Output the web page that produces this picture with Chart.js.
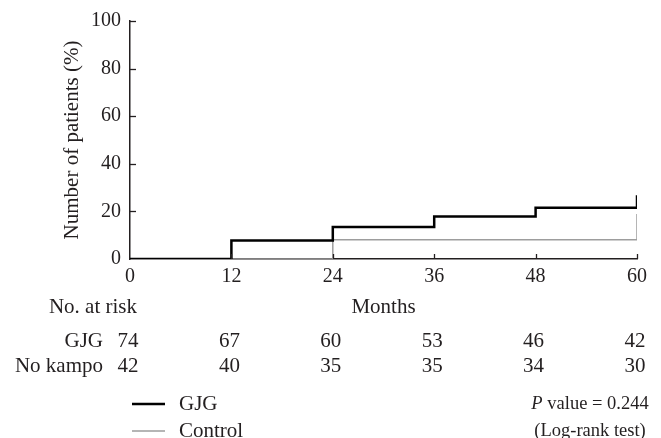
<!DOCTYPE html>
<html lang="en">
<head>
    <meta charset="UTF-8">
    <title>Number of patients (%) by months</title>
    <script src="https://cdn.jsdelivr.net/npm/chart.js"></script>
    <style>
        body {
            margin: 0;
            padding: 0;
            background-color: white;
        }
        .chart-box {
            width: 661px;
            height: 438px;
            position: relative;
        }
    </style>
</head>
<body>
    <div class="chart-box">
        <canvas id="kmChart"></canvas>
    </div>

    <script>
        // data
        const months = [0, 12, 24, 36, 48, 60];
        const gjgPct = [0, 7.8, 13.4, 17.9, 21.5, 26.8];
        const controlMonths = [0, 24, 60];
        const controlPct = [0, 8.1, 18.9];
        const atRiskGJG = [74, 67, 60, 53, 46, 42];
        const atRiskNoKampo = [42, 40, 35, 35, 34, 30];
        const yTicks = [0, 20, 40, 60, 80, 100];

        const textColor = '#231f20';
        const serif = '"Liberation Serif", "Times New Roman", serif';
        const tickSize = 20;
        const labelSize = 21;
        const noteSize = 18.5;

        // inward tick marks, at-risk table and legend
        const extras = {
            id: 'extras',
            afterDraw(chart) {
                const ctx = chart.ctx;
                const xs = chart.scales.x;
                const ys = chart.scales.y;
                const area = chart.chartArea;

                ctx.save();
                ctx.strokeStyle = textColor;
                ctx.lineWidth = 1.3;
                yTicks.forEach(v => {
                    if (v === 0) return;
                    const y = Math.round(ys.getPixelForValue(v)) + 0.5;
                    ctx.beginPath();
                    ctx.moveTo(area.left, y);
                    ctx.lineTo(area.left + 6, y);
                    ctx.stroke();
                });
                months.forEach(m => {
                    if (m === 0) return;
                    const x = Math.round(xs.getPixelForValue(m)) + 0.5;
                    ctx.beginPath();
                    ctx.moveTo(x, area.bottom);
                    ctx.lineTo(x, area.bottom - 5);
                    ctx.stroke();
                });

                // number at risk
                ctx.fillStyle = textColor;
                ctx.font = labelSize + 'px ' + serif;
                ctx.textBaseline = 'middle';
                ctx.textAlign = 'right';
                ctx.fillText('No. at risk', xs.getPixelForValue(0) + 7, 307);
                ctx.fillText('GJG', 103, 341);
                ctx.fillText('No kampo', 103, 366);
                ctx.textAlign = 'center';
                months.forEach((m, i) => {
                    const x = xs.getPixelForValue(m) - 2;
                    ctx.fillText(String(atRiskGJG[i]), x, 341);
                    ctx.fillText(String(atRiskNoKampo[i]), x, 366);
                });

                // legend
                const legendY = [404, 431];
                chart.data.datasets.forEach((ds, i) => {
                    ctx.strokeStyle = ds.borderColor;
                    ctx.lineWidth = ds.borderWidth;
                    ctx.beginPath();
                    ctx.moveTo(132, legendY[i]);
                    ctx.lineTo(165, legendY[i]);
                    ctx.stroke();
                    ctx.textAlign = 'left';
                    ctx.fillText(ds.label, 179, legendY[i]);
                });

                // p value note
                const cx = 590;
                const italic = 'italic ' + noteSize + 'px ' + serif;
                const normal = noteSize + 'px ' + serif;
                ctx.font = italic;
                const wP = ctx.measureText('P').width;
                ctx.font = normal;
                const rest = ' value = 0.244';
                const wRest = ctx.measureText(rest).width;
                const x0 = cx - (wP + wRest) / 2;
                ctx.textAlign = 'left';
                ctx.font = italic;
                ctx.fillText('P', x0, legendY[0]);
                ctx.font = normal;
                ctx.fillText(rest, x0 + wP, legendY[0]);
                ctx.textAlign = 'center';
                ctx.fillText('(Log-rank test)', cx, legendY[1]);
                ctx.restore();
            }
        };

        const ctx = document.getElementById('kmChart').getContext('2d');
        new Chart(ctx, {
            type: 'line',
            data: {
                datasets: [{
                    label: 'GJG',
                    data: months.map((m, i) => ({ x: m, y: gjgPct[i] })),
                    borderColor: '#000000',
                    borderWidth: 2.5,
                    stepped: 'before',
                    pointRadius: 0,
                    fill: false
                }, {
                    label: 'Control',
                    data: controlMonths.map((m, i) => ({ x: m, y: controlPct[i] })),
                    borderColor: '#9d9d9d',
                    borderWidth: 1.5,
                    stepped: 'before',
                    pointRadius: 0,
                    fill: false
                }]
            },
            options: {
                responsive: true,
                maintainAspectRatio: false,
                animation: false,
                layout: {
                    padding: { left: 0, right: 24, top: 18, bottom: 0 }
                },
                plugins: {
                    legend: { display: false },
                    tooltip: { enabled: false }
                },
                scales: {
                    x: {
                        type: 'linear',
                        min: 0,
                        max: 60,
                        afterBuildTicks: s => { s.ticks = months.map(v => ({ value: v })); },
                        afterFit: s => { s.height = 179; },
                        grid: { display: false, drawTicks: false },
                        border: { display: true, color: textColor, width: 1.5 },
                        ticks: {
                            color: textColor,
                            padding: 6,
                            maxRotation: 0,
                            font: { family: serif, size: tickSize }
                        },
                        title: {
                            display: true,
                            text: 'Months',
                            color: textColor,
                            padding: { top: 0, bottom: 118 },
                            font: { family: serif, size: labelSize }
                        }
                    },
                    y: {
                        min: 0,
                        max: 100,
                        afterBuildTicks: s => { s.ticks = yTicks.map(v => ({ value: v })); },
                        afterFit: s => { s.width = 130; },
                        grid: { display: false, drawTicks: false },
                        border: { display: true, color: textColor, width: 1.5 },
                        ticks: {
                            color: textColor,
                            padding: 9,
                            font: { family: serif, size: tickSize }
                        },
                        title: {
                            display: true,
                            text: 'Number of patients (%)',
                            color: textColor,
                            padding: { top: 60, bottom: 0 },
                            font: { family: serif, size: labelSize }
                        }
                    }
                }
            },
            plugins: [extras]
        });
    </script>
</body>
</html>
